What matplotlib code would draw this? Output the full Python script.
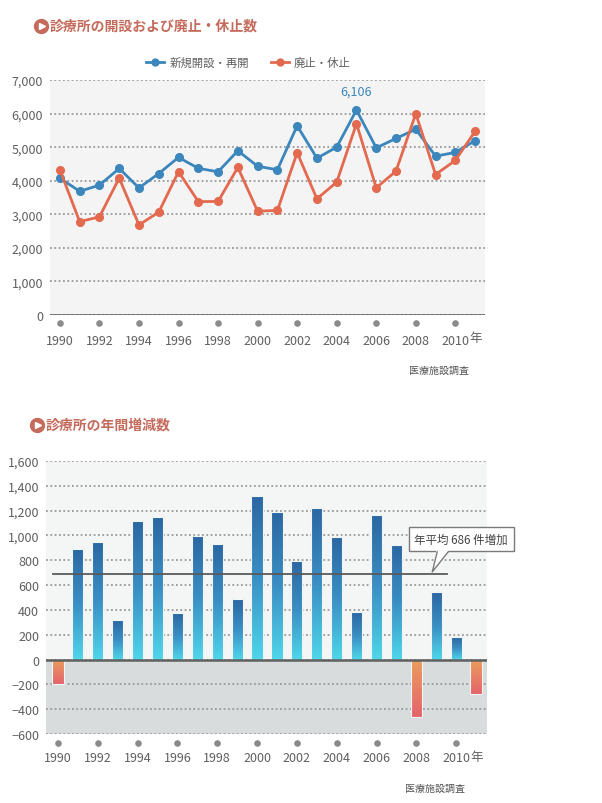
import numpy as np
import matplotlib
matplotlib.use("Agg")
import matplotlib.pyplot as plt
from matplotlib.lines import Line2D
from matplotlib.patches import Polygon
import matplotlib.transforms as mtransforms
from matplotlib.colors import LinearSegmentedColormap

plt.rcParams['font.family'] = ['Noto Sans CJK JP', 'DejaVu Sans']

# ---------------- data ----------------
years = list(range(1990, 2012))
openings = [4077, 3685, 3867, 4365, 3785, 4214, 4695, 4370, 4265, 4893, 4431,
            4326, 5638, 4670, 5000, 6106, 4978, 5260, 5532, 4731, 4843, 5195]
closures = [4325, 2780, 2924, 4078, 2683, 3064, 4268, 3378, 3382, 4397, 3092,
            3115, 4835, 3460, 3959, 5699, 3788, 4287, 5997, 4185, 4605, 5472]
net_change = [-200, 890, 950, 315, 1120, 1145, 378, 995, 928, 488, 1315,
              1188, 792, 1225, 990, 385, 1162, 920, -465, 545, 180, -275]
avg_increase = 686
tick_years = list(range(1990, 2011, 2))
tick_labels = [str(y) for y in tick_years]
top_yticks = [0, 1000, 2000, 3000, 4000, 5000, 6000, 7000]
top_ylabels = ['0', '1,000', '2,000', '3,000', '4,000', '5,000', '6,000', '7,000']
bot_yticks = [-600, -400, -200, 0, 200, 400, 600, 800, 1000, 1200, 1400, 1600]
bot_ylabels = ['−600', '−400', '−200', '0', '200', '400', '600', '800',
               '1,000', '1,200', '1,400', '1,600']
series_names = ['新規開設・再開', '廃止・休止']
title_top = '診療所の開設および廃止・休止数'
title_bot = '診療所の年間増減数'
source = '医療施設調査'
callout = '年平均 686 件増加'
peak_label = '6,106'

W, H = 602, 804
fig = plt.figure(figsize=(W / 100, H / 100), dpi=100)
fig.patch.set_facecolor('white')


def rect(x0, y0, x1, y1):
    return [x0 / W, 1 - y1 / H, (x1 - x0) / W, (y1 - y0) / H]


TXT = '#5f5f5f'
BLUE = '#3b86bc'
RED = '#e3694f'
TITLE = '#c46b5c'
GRID = '#9a9a9a'
TICKSIZE = 9


def style_axis(ax, yt, yl, labelpad_x):
    for s in ax.spines.values():
        s.set_visible(False)
    ax.set_yticks(yt)
    ax.set_yticklabels(yl)
    ax.set_xticks(tick_years)
    ax.set_xticklabels(tick_labels)
    ax.tick_params(axis='both', length=0, colors=TXT, labelsize=TICKSIZE)
    ax.tick_params(axis='y', pad=5)
    ax.tick_params(axis='x', pad=labelpad_x)
    ax.grid(axis='y', linestyle=(0, (1, 1.4)), color=GRID, linewidth=1.3)
    ax.set_axisbelow(True)


def title_icon(x, y, text):
    fig.add_artist(Line2D([x / W], [1 - y / H], marker='o', markersize=10,
                          color=TITLE, transform=fig.transFigure))
    fig.add_artist(Line2D([(x + 0.8) / W], [1 - y / H], marker='>', markersize=4.5,
                          color='white', transform=fig.transFigure))
    fig.text((x + 9) / W, 1 - y / H, text, fontsize=10, fontweight='bold',
             color=TITLE, va='center', ha='left')


# ---------------- top chart ----------------
ax1 = fig.add_axes(rect(50, 81, 485, 316))
ax1.set_facecolor('#f4f4f4')
ax1.set_xlim(1989.5, 2011.5)
ax1.set_ylim(0, 7000)
style_axis(ax1, top_yticks, top_ylabels, 14)
ax1.axhline(0, color='#5a5a5a', linewidth=1.8, zorder=3)
ax1.plot(years, openings, color=BLUE, lw=2, marker='o', markersize=5.5,
         label=series_names[0], zorder=4)
ax1.plot(years, closures, color=RED, lw=2, marker='o', markersize=5.5,
         label=series_names[1], zorder=4)
ax1.annotate(peak_label, (2005, openings[years.index(2005)]), xytext=(0, 9),
             textcoords='offset points', ha='center', va='bottom',
             color=BLUE, fontsize=TICKSIZE)
leg = ax1.legend(loc='center', bbox_to_anchor=(0.456, 1.077), ncol=2,
                 frameon=False, fontsize=8.2, handlelength=1.6,
                 columnspacing=1.9, handletextpad=0.45, markerscale=0.9)
for t in leg.get_texts():
    t.set_color(TXT)
tr1 = mtransforms.blended_transform_factory(ax1.transData, ax1.transAxes)
ax1.scatter(tick_years, [-0.034] * len(tick_years), s=14, color='#8a8a8a',
            transform=tr1, clip_on=False, zorder=5)
ax1.text(2011.05, -0.094, '年', transform=tr1, ha='center', va='center',
         color=TXT, fontsize=TICKSIZE)
fig.text(409 / W, 1 - 371 / H, source, fontsize=7.2, color='#555555',
         ha='left', va='center')
title_icon(41, 27, title_top)

# ---------------- bottom chart ----------------
ax2 = fig.add_axes(rect(46, 462, 487, 735))
ax2.set_xlim(1989.4, 2011.55)
ax2.set_ylim(-600, 1600)
ax2.set_facecolor('#f4f5f5')
ax2.axhspan(-600, 0, color='#d9dcdc', zorder=0)
style_axis(ax2, bot_yticks, bot_ylabels, 12)

bars = ax2.bar(years, net_change, width=0.56, color='none',
               edgecolor='#eef6f8', linewidth=0.8, zorder=3)
cm_pos = LinearSegmentedColormap.from_list('pos', ['#2c67a3', '#3a8fc4', '#4fd6ea'])
cm_neg = LinearSegmentedColormap.from_list('neg', ['#eb9d5c', '#e4646c'])
grad = np.linspace(0, 1, 128).reshape(-1, 1)
for b, v in zip(bars, net_change):
    x0, y0 = b.get_x(), b.get_y()
    w, h = b.get_width(), b.get_height()
    ytop, ybot = max(y0, y0 + h), min(y0, y0 + h)
    im = ax2.imshow(grad, cmap=cm_pos if v >= 0 else cm_neg, aspect='auto',
                    extent=(x0, x0 + w, ybot, ytop), origin='upper',
                    zorder=2.5, interpolation='bilinear')
    im.set_clip_path(b)
ax2.set_xlim(1989.4, 2011.55)
ax2.set_ylim(-600, 1600)

ax2.axhline(0, color='#5f6060', linewidth=1.8, zorder=4)
ax2.plot([1989.75, 2009.53], [avg_increase, avg_increase], color='#5a5a5a',
         lw=1.3, zorder=4)

# callout box
ax2.text(2010.25, 971, callout, ha='center', va='center', fontsize=8.3,
         color='#444444', zorder=6, clip_on=False,
         bbox=dict(boxstyle='square,pad=0.5', fc='white', ec='#7a7a7a', lw=1))
wedge = Polygon([(2009.0, 880), (2009.65, 880), (2008.8, 706)], closed=True,
                fc='white', ec='none', zorder=7, clip_on=False)
ax2.add_patch(wedge)
ax2.plot([2009.05, 2008.8, 2009.6], [868, 706, 868], color='#7a7a7a', lw=1,
         zorder=8, clip_on=False)

tr2 = mtransforms.blended_transform_factory(ax2.transData, ax2.transAxes)
ax2.scatter(tick_years, [-0.033] * len(tick_years), s=14, color='#8a8a8a',
            transform=tr2, clip_on=False, zorder=5)
ax2.text(2011.05, -0.083, '年', transform=tr2, ha='center', va='center',
         color=TXT, fontsize=TICKSIZE)
fig.text(405 / W, 1 - 789 / H, source, fontsize=7.2, color='#555555',
         ha='left', va='center')
title_icon(37, 426, title_bot)

fig.savefig('out.png', dpi=100)
